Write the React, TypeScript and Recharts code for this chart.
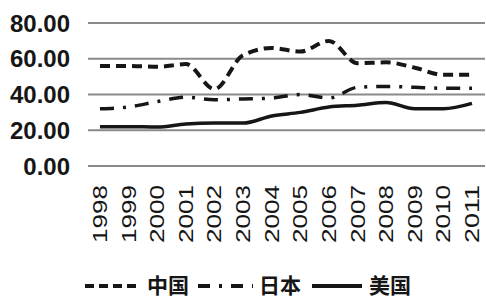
import { LineChart, Line, XAxis, YAxis, CartesianGrid, Legend } from "recharts";

const years = ["1998", "1999", "2000", "2001", "2002", "2003", "2004", "2005", "2006", "2007", "2008", "2009", "2010", "2011"];
const china = [56, 56, 55.5, 57, 43, 62, 66, 64, 70, 57.5, 58, 55, 51, 51];
const japan = [32, 33, 36, 38.5, 37, 37.5, 38, 40, 38, 44, 44.5, 44, 43.5, 43.5];
const usa = [22, 22, 21.8, 23.5, 24, 24, 28, 30, 33, 34, 35.5, 32, 32, 35];
const yTicks = [0, 20, 40, 60, 80];

const data = years.map((year, i) => ({
  year,
  china: china[i],
  japan: japan[i],
  usa: usa[i],
}));

const INK = "#161616";

function YearTick(props: any) {
  const { x, y, payload } = props;
  return (
    <text
      transform={`translate(${x},${y}) rotate(-90)`}
      x={0}
      y={7}
      textAnchor="end"
      fontSize={21}
      fontFamily="'Liberation Sans', Arial, sans-serif"
      fill={INK}
      textLength={58}
      lengthAdjust="spacingAndGlyphs"
    >
      {payload.value}
    </text>
  );
}

function ChartLegend() {
  const font = "'Noto Sans CJK SC', sans-serif";
  return (
    <svg width={486} height={40} style={{ display: "block" }}>
      <line x1={85} y1={26} x2={140} y2={26} stroke={INK} strokeWidth={4} strokeDasharray="9 5" />
      <text x={147} y={33} fontSize={21} fontWeight={700} fontFamily={font} fill={INK}>中国</text>
      <line x1={198} y1={26} x2={253} y2={26} stroke={INK} strokeWidth={4} strokeDasharray="12 9 3 9" />
      <text x={259} y={33} fontSize={21} fontWeight={700} fontFamily={font} fill={INK}>日本</text>
      <line x1={312} y1={26} x2={362} y2={26} stroke={INK} strokeWidth={4} />
      <text x={369} y={33} fontSize={21} fontWeight={700} fontFamily={font} fill={INK}>美国</text>
    </svg>
  );
}

export default function App() {
  return (
    <div style={{ position: "absolute", left: 0, top: 0, width: 486, height: 300, background: "#fff", overflow: "hidden" }}>
      <LineChart width={486} height={300} data={data} margin={{ top: 23, right: 1, bottom: 0, left: 0 }}>
        <CartesianGrid horizontal vertical={false} stroke="#8a8a8a" strokeWidth={2} />
        <XAxis
          dataKey="year"
          axisLine={false}
          tickLine={false}
          interval={0}
          height={94}
          padding={{ left: 12, right: 13 }}
          tick={<YearTick />}
          tickSize={0}
          tickMargin={19}
        />
        <YAxis
          domain={[0, 80]}
          ticks={yTicks}
          width={88}
          axisLine={false}
          tickLine={false}
          tickSize={0}
          tickMargin={18}
          tickFormatter={(v: number) => v.toFixed(2)}
          tick={{ fontSize: 24, fontWeight: 700, fill: INK, fontFamily: "'Liberation Sans', Arial, sans-serif" }}
        />
        <Legend
          verticalAlign="bottom"
          height={40}
          content={<ChartLegend />}
          wrapperStyle={{ left: 0, top: 260, width: 486, height: 40 }}
        />
        <Line type="monotone" dataKey="china" stroke={INK} strokeWidth={4} strokeDasharray="10 6" dot={false} isAnimationActive={false} />
        <Line type="monotone" dataKey="japan" stroke={INK} strokeWidth={3.5} strokeDasharray="14 9 3 9" dot={false} isAnimationActive={false} />
        <Line type="monotone" dataKey="usa" stroke={INK} strokeWidth={3.5} dot={false} isAnimationActive={false} />
      </LineChart>
    </div>
  );
}
